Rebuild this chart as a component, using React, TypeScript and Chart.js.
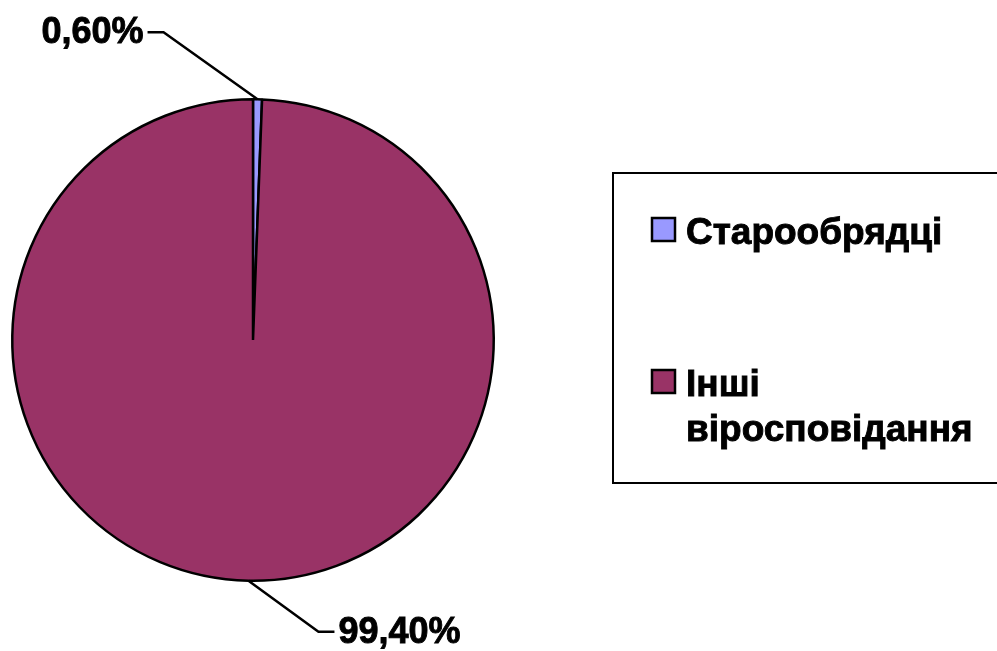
import React, { useEffect, useRef } from 'react';
import { Chart, registerables } from 'chart.js';

Chart.register(...registerables);

const categories = ['Старообрядці', 'Інші віросповідання'];
const values = [0.6, 99.4];
const valueLabels = ['0,60%', '99,40%'];

const colors = ['#9999FF', '#993366'];
const FONT = '"Liberation Sans", Arial, sans-serif';
const leader = [
  { dx: -94, dy: -67, side: -1 },
  { dx: 70, dy: 51, side: 1 },
];

function boldText(ctx: any, text: string, x: number, y: number) {
  ctx.fillText(text, x, y);
  ctx.lineWidth = 0.9;
  ctx.strokeStyle = '#000';
  ctx.strokeText(text, x, y);
}

const labelPlugin = {
  id: 'pctLabels',
  afterDatasetsDraw(chart: any) {
    const ctx = chart.ctx;
    const meta = chart.getDatasetMeta(0);
    ctx.save();
    meta.data.forEach((arc: any, i: number) => {
      const p = arc.getProps(['x', 'y', 'startAngle', 'endAngle', 'outerRadius'], true);
      const mid = (p.startAngle + p.endAngle) / 2;
      const ax = p.x + Math.cos(mid) * p.outerRadius;
      const ay = p.y + Math.sin(mid) * p.outerRadius;
      const l = leader[i];
      const ex = ax + l.dx;
      const ey = ay + l.dy;
      const hx = ex + l.side * 16;
      ctx.strokeStyle = '#000';
      ctx.lineWidth = 2.5;
      ctx.beginPath();
      ctx.moveTo(ax, ay);
      ctx.lineTo(ex, ey);
      ctx.lineTo(hx, ey);
      ctx.stroke();
      ctx.fillStyle = '#000';
      ctx.font = `bold 36px ${FONT}`;
      ctx.textAlign = l.side < 0 ? 'right' : 'left';
      ctx.textBaseline = 'alphabetic';
      boldText(ctx, valueLabels[i], hx + l.side * 4, ey + 11);
    });
    ctx.restore();
  },
};

const legendPlugin = {
  id: 'boxLegend',
  afterDraw(chart: any) {
    const ctx = chart.ctx;
    ctx.save();
    ctx.strokeStyle = '#000';
    ctx.lineWidth = 2;
    ctx.strokeRect(613, 173, 400, 310);
    ctx.font = `bold 37px ${FONT}`;
    ctx.textAlign = 'left';
    ctx.textBaseline = 'alphabetic';
    const maxW = 300;
    categories.forEach((cat, i) => {
      const sy = 218 + i * 152;
      ctx.fillStyle = colors[i];
      ctx.fillRect(652, sy, 23, 23);
      ctx.strokeStyle = '#000';
      ctx.lineWidth = 2.5;
      ctx.strokeRect(652, sy, 23, 23);
      const words = cat.split(' ');
      const lines: string[] = [];
      let cur = '';
      words.forEach((w) => {
        const t = cur ? cur + ' ' + w : w;
        if (cur && ctx.measureText(t).width > maxW) {
          lines.push(cur);
          cur = w;
        } else cur = t;
      });
      lines.push(cur);
      ctx.fillStyle = '#000';
      lines.forEach((ln, j) => boldText(ctx, ln, 686, sy + 26 + j * 45));
    });
    ctx.restore();
  },
};

export default function App() {
  const ref = useRef<HTMLCanvasElement>(null);
  useEffect(() => {
    document.body.style.margin = '0';
    const chart = new Chart(ref.current as HTMLCanvasElement, {
      type: 'pie',
      data: {
        labels: categories,
        datasets: [
          {
            data: values,
            backgroundColor: colors,
            borderColor: '#000',
            borderWidth: 2.5,
          },
        ],
      },
      options: {
        responsive: false,
        animation: false,
        devicePixelRatio: 1,
        layout: { padding: { left: 11, right: 502, top: 97, bottom: 68 } },
        plugins: { legend: { display: false }, tooltip: { enabled: false } },
      },
      plugins: [labelPlugin, legendPlugin],
    });
    return () => chart.destroy();
  }, []);
  return (
    <div style={{ width: 997, height: 651, background: '#fff' }}>
      <canvas ref={ref} width={997} height={651} style={{ display: 'block' }} />
    </div>
  );
}
